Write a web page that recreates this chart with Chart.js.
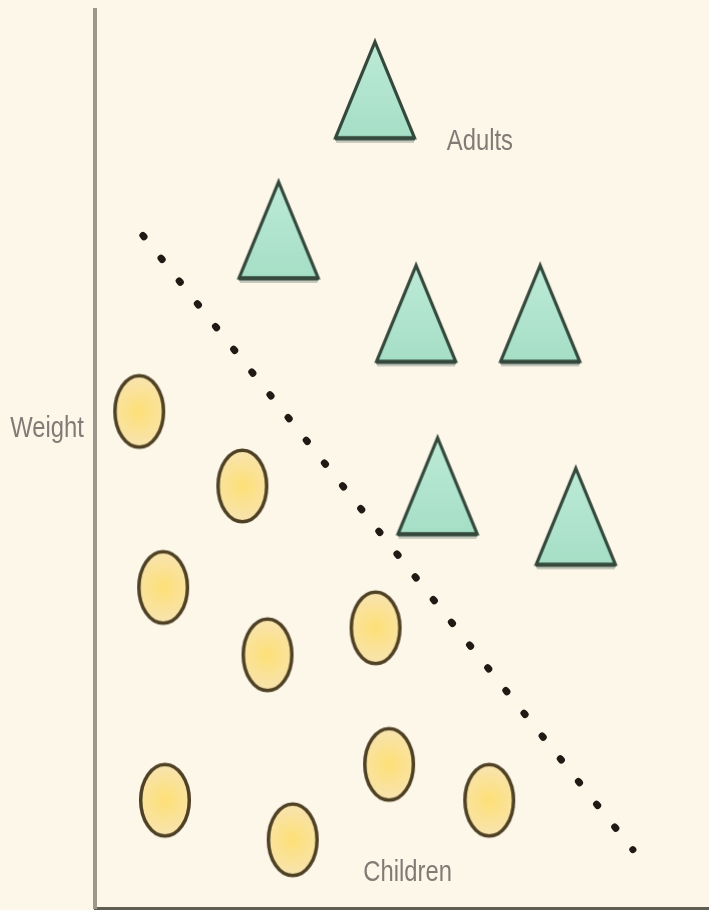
<!DOCTYPE html>
<html>
<head>
<meta charset="utf-8">
<script src="https://cdn.jsdelivr.net/npm/chart.js@4.4.1/dist/chart.umd.min.js"></script>
<style>
  html, body { margin: 0; padding: 0; background: #fdf7ea; }
  #wrap { width: 709px; height: 910px; }
</style>
</head>
<body>
<div id="wrap"><canvas id="c" width="709" height="910"></canvas></div>
<script>
// ---- data (abstract units, 0..100 on both axes) ----
const childrenX = [7.2, 24.0, 11.1, 28.1, 45.7, 11.4, 32.2, 47.9, 64.2];
const childrenY = [55.3, 47.0, 35.7, 28.2, 31.2, 12.0, 7.6, 16.0, 12.0];
const adultsX = [45.6, 29.9, 52.3, 72.5, 55.8, 78.3];
const adultsY = [91.0, 75.4, 66.1, 66.1, 46.9, 43.5];
const boundaryX = [7.8, 87.6];
const boundaryY = [74.9, 6.5];
const labelTexts = ['Adults', 'Children', 'Weight'];
const labelX = [57.3, 43.7, -13.8];
const labelY = [84.4, 3.0, 52.5];

// ---- marker images ----
function makeTriangle() {
  const c = document.createElement('canvas');
  c.width = 86; c.height = 108;
  const g = c.getContext('2d');
  g.fillStyle = 'rgba(150,160,150,0.55)';
  g.fillRect(4, 103, 78, 3);
  const grad = g.createLinearGradient(0, 5, 0, 103);
  grad.addColorStop(0, '#bdebd8');
  grad.addColorStop(1, '#a5dec6');
  g.beginPath();
  g.moveTo(43, 5);
  g.lineTo(82.5, 101);
  g.lineTo(3.5, 101);
  g.closePath();
  g.fillStyle = grad;
  g.fill();
  g.lineWidth = 3.2;
  g.lineJoin = 'miter';
  g.strokeStyle = '#34493c';
  g.stroke();
  g.beginPath();
  g.moveTo(3, 101.5);
  g.lineTo(83, 101.5);
  g.lineWidth = 4;
  g.stroke();
  return c;
}
function makeEllipse() {
  const c = document.createElement('canvas');
  c.width = 56; c.height = 80;
  const g = c.getContext('2d');
  const grad = g.createRadialGradient(28, 40, 2, 28, 40, 36);
  grad.addColorStop(0, '#fde07a');
  grad.addColorStop(1, '#f8e4b2');
  g.beginPath();
  g.ellipse(28, 40, 24.3, 35.8, 0, 0, Math.PI * 2);
  g.fillStyle = grad;
  g.fill();
  g.lineWidth = 3.5;
  g.strokeStyle = '#4f4124';
  g.stroke();
  return c;
}
const triImg = makeTriangle();
const ellImg = makeEllipse();

const toPoints = (xs, ys) => xs.map((v, i) => ({ x: v, y: ys[i] }));

const labelPlugin = {
  id: 'classLabels',
  afterDatasetsDraw(chart) {
    const { ctx, scales: { x, y } } = chart;
    ctx.save();
    ctx.font = '29px "Liberation Sans", sans-serif';
    ctx.fillStyle = '#807b74';
    ctx.textAlign = 'left';
    ctx.textBaseline = 'alphabetic';
    const squeeze = 0.82; // narrow lettering as in the reference
    labelTexts.forEach((t, i) => {
      const px = x.getPixelForValue(labelX[i]);
      const py = y.getPixelForValue(labelY[i]);
      ctx.save();
      ctx.translate(px, py);
      ctx.scale(squeeze, 1);
      ctx.fillText(t, 0, 0);
      ctx.restore();
    });
    ctx.restore();
  }
};

new Chart(document.getElementById('c'), {
  type: 'scatter',
  data: {
    datasets: [
      {
        label: 'Boundary',
        data: toPoints(boundaryX, boundaryY),
        showLine: true,
        borderColor: '#1f1a13',
        borderWidth: 7,
        borderDash: [1.8, 27.3],
        borderCapStyle: 'round',
        pointRadius: 0,
        fill: false,
        clip: false
      },
      {
        label: 'Adults',
        data: toPoints(adultsX, adultsY),
        pointStyle: triImg,
        pointRadius: 10,
        clip: false
      },
      {
        label: 'Children',
        data: toPoints(childrenX, childrenY),
        pointStyle: ellImg,
        pointRadius: 10,
        clip: false
      }
    ]
  },
  options: {
    responsive: false,
    devicePixelRatio: 1,
    animation: false,
    events: [],
    layout: { autoPadding: false, padding: { left: 95, top: 10, right: 0, bottom: 2 } },
    plugins: { legend: { display: false }, tooltip: { enabled: false } },
    scales: {
      x: {
        type: 'linear', min: 0, max: 100,
        grid: { display: false, drawTicks: false },
        ticks: { display: false },
        border: { display: true, color: '#5f5d54', width: 3 }
      },
      y: {
        type: 'linear', min: 0, max: 100,
        grid: { display: false, drawTicks: false },
        ticks: { display: false },
        border: { display: true, color: '#9d978b', width: 4 }
      }
    }
  },
  plugins: [labelPlugin]
});
</script>
</body>
</html>
